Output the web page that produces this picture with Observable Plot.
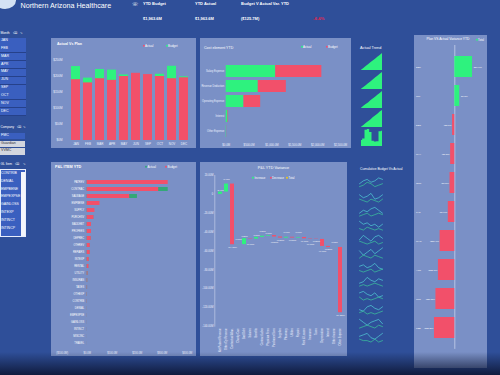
<!DOCTYPE html>
<html><head><meta charset="utf-8">
<script src="https://cdn.jsdelivr.net/npm/d3@7"></script>
<script src="https://cdn.jsdelivr.net/npm/@observablehq/plot@0.6"></script>
<style>
html,body{margin:0;padding:0;}
body{width:500px;height:375px;overflow:hidden;background:#2f4f99;position:relative;font-family:"Liberation Sans",Arial,sans-serif;color:#fff;}
.t{position:absolute;white-space:nowrap;line-height:1;transform:translateY(-50%);}
.box{position:absolute;}
.dot{position:absolute;width:2.4px;height:2.4px;border-radius:50%;transform:translateY(-50%);}
</style></head><body>
<div id="root"></div>
<script>
// ---------------- DATA ----------------
const kpiLabels = ["YTD Budget", "YTD Actual", "Budget V Actual Var. YTD"];
const kpiValues = ["$1,963.6M", "$1,963.6M", "($125.7M)"];
const kpiPct = "-6.4%";

const monthSlicer = ["JAN","FEB","MAR","APR","MAY","JUN","SEP","OCT","NOV","DEC"];
const companies = ["FMC","Guardian","VVMC"];
const glItems = ["CONTRIB","DENIAL","EMPBENE","EMPEXPSE","GAINLOSS","INTEXP","INTINCT","INTINCP"];

// Actual Vs Plan ($M)
const months = ["JAN","FEB","MAR","APR","MAY","JUN","SEP","OCT","NOV","DEC"];
const monthlyActual = [190,180,193,188,200,210,206,200,193,196];
const monthlyBudget = [231,195,222,220,205,205,200,207,232,199];

// Cost element YTD ($M)
const costElements = ["Salary Expense","Revenue Deduction","Operating Expense","Interest","Other Expense"];
const costActual = [1083,702,388,40,8];
const costBudget = [1009,613,366,12,3];

// Actual Trend (cumulative)
const trend1 = [2,24,45,66,88,110,131,153,174,196];
const trend2 = [3,23,44,67,87,109,132,152,175,195];
const trend3 = [2,25,46,65,89,111,130,154,173,197];
const trend4 = [3,22,45,67,86,110,131,151,176,194];
const trend5 = [16,20,44,46,38,14,12,13,40,41];

// Plan VS Actual Variance YTD ($M)
const varianceMonths = ["SEP","JUL","DEC","MAY","OCT","JAN","MAR","APR","JUN","FEB"];
const varianceValues = [24.6,6.8,-3.1,-5.8,-6.6,-9.0,-20.4,-22.7,-26.2,-28.2];

// P&L ITEM YTD ($M)
const plItems = ["PATREV","CONTRAC","SALWAGE","EMPBENE","SUPPLY","PURCHSV","BADDEBT","PROFEES","DEPREC","OTHREV","REPAIRS","INTEXP","RENTAL","UTILITY","INSURAN","TAXES","OTHEXP","CONTRIB","DENIAL","EMPEXPSE","GAINLOSS","INTINCT","MISCINC","TRAVEL"];
const plBudget = [324,286,170,51,31,27,17,17,16,12,12,8,7,3,2,1.5,1,0.8,0.5,0.4,0.3,0.3,0.2,0.2];
const plActual = [316,324,201,48,29,26,16,16,15,11,11,7,6,3,2,1.4,1,0.7,0.5,0.4,0.3,0.3,0.2,0.2];

// P&L YTD Variance waterfall ($M)
const wfCategories = ["Net Patient Revenue","Other Op Revenue","Contractual Allow.","Charity Care","Bad Debt","Salaries","Benefits","Contract Labor","Physician Fees","Purchased Svcs","Supplies","Pharmacy","Utilities","Repairs","Rent & Leases","Insurance","Taxes","Depreciation","Interest","Other Income","Other Expense"];
const wfDeltas = [2.44,8.47,-64.40,0.10,6.30,-0.40,1.80,1.20,0.70,-1.50,-1.20,0.90,-0.80,0.60,-1.40,-0.40,-0.30,-7.40,-1.20,0.05,-69.26];
const wfTicks = [20,0,-20,-40,-60,-80,-100,-120,-140];

// Cumulative Budget Vs Actual sparklines
const sparkBudget = [
  [4,6,7,5,6,8,7],[6,4,5,7,3,4,6],[3,5,4,6,7,5,3],[7,5,6,4,5,3,5],
  [4,7,5,3,6,7,5],[6,3,5,7,4,6,8],[5,6,4,5,7,4,3],[3,4,7,5,4,6,5],
  [6,7,5,4,6,3,4],[4,3,6,7,5,4,6],[7,5,3,5,6,7,4],[5,6,7,4,3,5,7]
];
const sparkActual = [
  [2,3,5,4,2,3,4],[3,2,1,3,2,1,3],[1,2,3,1,2,3,2],[2,1,3,2,1,2,1],
  [3,2,1,2,3,1,2],[1,3,2,1,3,2,1],[2,1,2,3,1,2,3],[1,2,1,2,3,2,1],
  [3,1,2,1,2,3,2],[2,3,1,2,1,2,3],[1,2,3,2,1,3,2],[3,2,2,1,3,1,2]
];

// ---------------- STYLE ----------------
const RED = "#f2506a", GREEN = "#2ef27e", DKGREEN = "#33a877", PANEL = "#7a90c6";
const FONT = "Liberation Sans, Arial, sans-serif";
const root = document.getElementById("root");
const baseStyle = {background:"transparent", color:"#eef2ff", fontFamily:FONT, fontSize:"3px", overflow:"visible"};

function box(x,y,w,h,bg,extra){const d=document.createElement("div");d.className="box";Object.assign(d.style,{left:x+"px",top:y+"px",width:w+"px",height:h+"px",background:bg},extra||{});root.appendChild(d);return d;}
function label(txt,x,y,fs,opts){opts=opts||{};const s=document.createElement("div");s.className="t";s.textContent=txt;Object.assign(s.style,{left:x+"px",top:y+"px",fontSize:fs+"px",fontWeight:opts.bold?"bold":"normal",color:opts.color||"#fff"});if(opts.anchor==="middle"){s.style.transform="translate(-50%,-50%)";}root.appendChild(s);return s;}
function dot(x,y,c){const d=document.createElement("div");d.className="dot";d.style.left=x+"px";d.style.top=y+"px";d.style.background=c;root.appendChild(d);}
function place(plot,x,y){const d=document.createElement("div");d.className="box";d.style.left=x+"px";d.style.top=y+"px";d.appendChild(plot);root.appendChild(d);}

// ---------------- HEADER ----------------
box(-6,-8,22,17,"#d4e2f4",{borderRadius:"50%"});
label("Northern Arizona Healthcare",20.5,5.5,7.2);
label("☏",132,3.5,5);
const kx=[143,195,241];
kpiLabels.forEach((t,i)=>label(t,kx[i],4,4,{bold:true}));
kpiValues.forEach((t,i)=>label(t,kx[i],19,4,{bold:true}));
label(kpiPct,313,19,4.4,{bold:true,color:"#e0264e"});

// ---------------- SIDEBAR ----------------
label("Month",0.5,33.5,3.3);
label("⌫",13,33.5,3.2);label("✎",20,33.5,3.2);
monthSlicer.forEach((m,i)=>{box(0,37.5+i*7.85,26,7,"#3a5fbf",{borderBottom:"0.8px solid #26418a"});label(m,1,41+i*7.85,3.6);});
label("Company",0.5,128,3.2);
label("⌫",16.5,128,3.2);label("✎",22.5,128,3.2);
companies.forEach((c,i)=>{const sel=i===0;box(0,133+i*7.6,25,6.4,sel?"#3a5fbf":"#d3d6de");label(c,1,136.2+i*7.6,3.6,{color:sel?"#fff":"#333"});});
label("GL Item",0.5,165,3.3);
label("⌫",15,165,3.2);label("✎",22.5,165,3.2);
box(0,169,26,68,"#3a5fbf",{border:"0.8px solid #e8eefc",boxSizing:"border-box"});
box(21,171.5,4,64,"#f4f6fb");
glItems.forEach((g,i)=>label(g,1,174+i*7.8,3.5));

// ---------------- PANELS ----------------
box(51,38,145,110,PANEL);
box(200,38,151,110,PANEL);
box(414,35,73,333,PANEL);
box(51,162,145,194,PANEL);
box(200,162,147,194,PANEL);

// Panel 1: Actual Vs Plan
label("Actual Vs Plan",57,45,3.6,{bold:true});
dot(142.5,45.5,RED);label("Actual",145,45.5,3);
dot(165.5,45.5,GREEN);label("Budget",168,45.5,3);
const avp = months.map((m,i)=>({m,actual:monthlyActual[i],budget:monthlyBudget[i]}));
place(Plot.plot({
  width:145,height:110,marginLeft:12.4,marginRight:1,marginTop:22,marginBottom:8,style:baseStyle,
  x:{domain:months,padding:0.26},
  y:{domain:[0,250]},
  marks:[
    Plot.barY(avp,{x:"m",y:"budget",fill:GREEN}),
    Plot.barY(avp,{x:"m",y:"actual",fill:RED}),
    Plot.axisX({tickSize:0,tickPadding:2,fontSize:3,label:null}),
    Plot.axisY({ticks:[0,50,100,150,200,250],tickFormat:d=>`$${d}M`,tickSize:0,tickPadding:1.5,fontSize:3,label:null})
  ]
}),51,38);

// Panel 2: Cost element YTD
label("Cost element YTD",204,48.5,3.6);
dot(300.5,46.7,GREEN);label("Actual",303,46.7,3);
dot(325.5,46.7,RED);label("Budget",328,46.7,3);
const costData = [
  ...costElements.map((c,i)=>({cat:c,type:"Actual",value:costActual[i]})),
  ...costElements.map((c,i)=>({cat:c,type:"Budget",value:costBudget[i]}))
];
const fmtM = d=>"$"+d3.format(",.1f")(d)+"M";
place(Plot.plot({
  width:151,height:110,marginLeft:25.7,marginRight:11,marginTop:21.5,marginBottom:5.8,style:baseStyle,
  x:{domain:[0,2500]},
  y:{domain:costElements,padding:0.2},
  color:{domain:["Actual","Budget"],range:[GREEN,RED]},
  marks:[
    Plot.barX(costData,Plot.stackX({y:"cat",x:"value",fill:"type"})),
    Plot.axisX({ticks:[0,500,1000,1500,2000,2500],tickFormat:fmtM,tickSize:0,tickPadding:1.2,fontSize:2.8,label:null}),
    Plot.axisY({tickSize:0,tickPadding:2,fontSize:2.6,label:null})
  ]
}),200,38);

// Actual Trend
label("Actual Trend",360,49,3.8);
const trendRows=[trend1,trend2,trend3,trend4,trend5];
const trendTops=[53.3,72.3,91.2,110,129];
trendRows.forEach((arr,k)=>{
  place(Plot.plot({
    width:21,height:17,margin:0,style:baseStyle,
    x:{domain:[0,arr.length-1],axis:null},
    y:{domain:[0,d3.max(arr)],axis:null},
    marks:[Plot.areaY(arr.map((v,i)=>({i,v})),{x:"i",y:"v",fill:GREEN,curve:k===4?"step":"linear"})]
  }),361,trendTops[k]);
});

// Panel 4: Plan VS Actual Variance YTD
label("Plan VS Actual Variance YTD",426.5,40,3.3);
dot(475.5,40,GREEN);label("Total",478,40,2.8);
const varData = varianceMonths.map((m,i)=>({m,v:varianceValues[i]}));
const fmtVar = v=> v>=0 ? `$${v.toFixed(1)}M` : `($${(-v).toFixed(1)}M)`;
place(Plot.plot({
  width:73,height:333,marginLeft:5.74,marginRight:7.5,marginTop:10,marginBottom:19.1,style:baseStyle,
  x:{domain:[-48,35],axis:null},
  y:{domain:varianceMonths,paddingInner:0.27,paddingOuter:0.2,axis:null},
  color:{domain:["pos","neg"],range:[GREEN,RED]},
  marks:[
    Plot.ruleX([0],{stroke:"#dfe6f7",strokeWidth:0.6}),
    Plot.barX(varData,{y:"m",x:"v",fill:d=>d.v>=0?"pos":"neg"}),
    Plot.text(varData.filter(d=>d.v>=0),{y:"m",x:"v",text:d=>fmtVar(d.v),dx:1.2,textAnchor:"start",fill:"#fff",fontSize:2.4}),
    Plot.text(varData.filter(d=>d.v<0),{y:"m",x:"v",text:d=>fmtVar(d.v),dx:-1,textAnchor:"end",fill:"#fff",fontSize:2.3}),
    Plot.text(varData,{y:"m",frameAnchor:"left",dx:-4.2,text:"m",textAnchor:"start",fill:"#fff",fontSize:2.4})
  ]
}),414,35);

// Panel 5: P&L ITEM YTD
label("P&L ITEM YTD",55,168.3,3.8,{bold:true});
dot(145,166.7,DKGREEN);label("Actual",147.5,166.7,3);
dot(165,166.7,RED);label("Budget",167.5,166.7,3);
const plData = plItems.map((p,i)=>({p,budget:plBudget[i],actual:plActual[i]}));
const fmtPL = d=> d<0 ? `($${d3.format(",.1f")(-d)}M)` : `$${d3.format(",.1f")(d)}M`;
place(Plot.plot({
  width:145,height:194,marginLeft:5.7,marginRight:1.8,marginTop:12.2,marginBottom:5.4,style:baseStyle,
  x:{domain:[-120,430]},
  y:{domain:plItems,padding:0.4,axis:null},
  marks:[
    Plot.barX(plData,{y:"p",x:"actual",fill:DKGREEN}),
    Plot.barX(plData,{y:"p",x:"budget",fill:RED}),
    Plot.text(plData,{y:"p",x:()=>0,text:"p",dx:-3,textAnchor:"end",fill:"#fff",fontSize:2.6}),
    Plot.axisX({ticks:[-100,0,100,200,300,400],tickFormat:fmtPL,tickSize:0,tickPadding:1.3,fontSize:2.6,label:null})
  ]
}),51,162);

// Panel 6: P&L YTD Variance (waterfall)
label("P&L YTD Variance",273.5,169,3.8,{anchor:"middle"});
dot(252,177.7,GREEN);label("Increase",254.5,177.7,2.8);
dot(269.5,177.7,RED);label("Decrease",272,177.7,2.8);
dot(286,177.7,"#f2c80f");label("Total",288.5,177.7,2.8);
let run=0;
const wfData = wfCategories.map((c,i)=>{const start=run;run+=wfDeltas[i];return {c,i,start,end:run,delta:wfDeltas[i],kind:wfDeltas[i]>=0?"Increase":"Decrease"};});
const fmtWF = d=> d>=0 ? `${d.toFixed(2)}M` : `(${(-d).toFixed(2)}M)`;
const wfUpNear = wfData.filter(d=>d.delta>=0 && d.i%2===0), wfUpFar = wfData.filter(d=>d.delta>=0 && d.i%2===1);
const wfDnNear = wfData.filter(d=>d.delta<0 && d.i%2===0), wfDnFar = wfData.filter(d=>d.delta<0 && d.i%2===1);
const wfText = {x:"c",y:"end",text:d=>fmtWF(d.delta),fill:"#fff",fontSize:2.2};
place(Plot.plot({
  width:147,height:194,marginLeft:14.3,marginRight:1,marginTop:13,marginBottom:30.3,style:baseStyle,
  x:{domain:wfCategories,padding:0.35},
  y:{domain:[-140,20]},
  color:{domain:["Increase","Decrease","Total"],range:[GREEN,RED,"#f2c80f"]},
  marks:[
    Plot.frame({anchor:"left",stroke:"#dfe6f7",strokeWidth:0.5}),
    Plot.barY(wfData,{x:"c",y1:"start",y2:"end",fill:"kind"}),
    Plot.text(wfUpNear,{...wfText,dy:-2.2}),
    Plot.text(wfUpFar,{...wfText,dy:-5}),
    Plot.text(wfDnNear,{...wfText,dy:2.2}),
    Plot.text(wfDnFar,{...wfText,dy:5}),
    Plot.axisY({ticks:wfTicks,tickFormat:d=>d===0?"0":`${d}.00M`,tickSize:0,tickPadding:1.5,fontSize:2.6,label:null}),
    Plot.axisX({tickRotate:-90,tickSize:0,tickPadding:2,fontSize:2.6,label:null})
  ]
}),200,162);

// Cumulative Budget Vs Actual
label("Cumulative Budget Vs Actual",360,170,3.3);
const sparkData=[];
sparkBudget.forEach((row,r)=>row.forEach((v,i)=>sparkData.push({row:r,i,v,s:"Budget"})));
sparkActual.forEach((row,r)=>row.forEach((v,i)=>sparkData.push({row:r,i,v,s:"Actual"})));
place(Plot.plot({
  width:23,height:172,margin:0,marginTop:1,marginBottom:1,style:baseStyle,
  fy:{axis:null,padding:0.05},
  x:{axis:null},
  y:{axis:null,domain:[0,9]},
  color:{domain:["Budget","Actual"],range:["#52cfd8","#3cc89c"]},
  marks:[Plot.line(sparkData,{x:"i",y:"v",z:"s",stroke:"s",fy:"row",strokeWidth:0.7})]
}),359,174);

// photo vignette at bottom
box(0,352,500,23,"linear-gradient(to bottom, rgba(10,18,45,0) 0%, rgba(10,18,45,0.85) 100%)");
</script>
</body></html>
